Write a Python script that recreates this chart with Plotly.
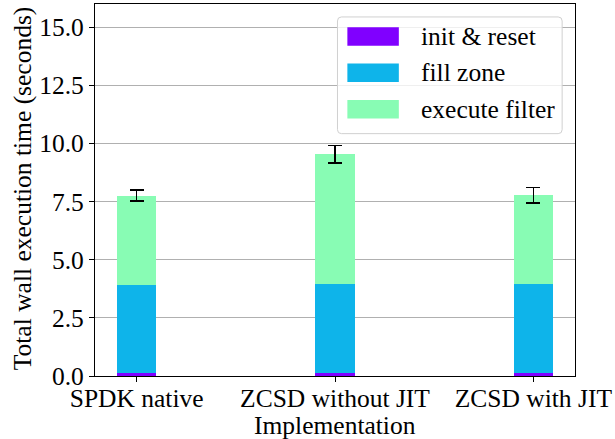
import plotly.graph_objects as go

categories = ["SPDK native", "ZCSD without JIT", "ZCSD with JIT"]
series_names = ["init & reset", "fill zone", "execute filter"]
init_reset = [0.13, 0.12, 0.13]
fill_zone = [3.77, 3.82, 3.81]
execute_filter = [3.86, 5.60, 3.83]
total_err = [0.23, 0.37, 0.33]
colors = ["#8000ff", "#0eb4ea", "#88fcb4"]
y_ticks = [0.0, 2.5, 5.0, 7.5, 10.0, 12.5, 15.0]

FONT = "'Liberation Serif', 'Times New Roman', Times, serif"
FS = 25.5
W, H = 615, 439
L, R, T, B = 95, 35, 3, 63

fig = go.Figure()
series = [init_reset, fill_zone, execute_filter]
for i, (name, vals, col) in enumerate(zip(series_names, series, colors)):
    kw = {}
    if i == len(series) - 1:
        kw["error_y"] = dict(type="data", array=total_err, color="black",
                             thickness=1.6, width=7)
    fig.add_trace(go.Bar(x=list(range(len(categories))), y=vals, name=name,
                         marker=dict(color=col, line=dict(width=0)),
                         width=0.2, showlegend=False, **kw))

pw = W - L - R
ph = H - T - B
def px(x):
    return (x - L) / pw
def py(y):
    return (H - B - y) / ph

bx0, bx1, by0, by1, r = 340, 567, 16, 133, 4
path = (f"M{px(bx0 + r)},{py(by0)} L{px(bx1 - r)},{py(by0)} "
        f"Q{px(bx1)},{py(by0)} {px(bx1)},{py(by0 + r)} "
        f"L{px(bx1)},{py(by1 - r)} Q{px(bx1)},{py(by1)} {px(bx1 - r)},{py(by1)} "
        f"L{px(bx0 + r)},{py(by1)} Q{px(bx0)},{py(by1)} {px(bx0)},{py(by1 - r)} "
        f"L{px(bx0)},{py(by0 + r)} Q{px(bx0)},{py(by0)} {px(bx0 + r)},{py(by0)} Z")
shapes = [dict(type="path", xref="paper", yref="paper", path=path,
               fillcolor="rgba(255,255,255,0.8)", line=dict(color="#d0d0d0", width=1),
               layer="above")]
annotations = []
row_y = [35.5, 72, 108.5]
for name, col, cy in zip(series_names, colors, row_y):
    shapes.append(dict(type="rect", xref="paper", yref="paper",
                       x0=px(350), x1=px(402), y0=py(cy - 9.3), y1=py(cy + 9.3),
                       fillcolor=col, line=dict(width=0), layer="above"))
    annotations.append(dict(xref="paper", yref="paper", x=px(422), y=py(cy),
                            text=name, showarrow=False, xanchor="left", yanchor="middle",
                            font=dict(family=FONT, size=FS, color="black")))

annotations.append(dict(xref="paper", yref="paper", x=px(337), y=py(426),
                        text="Implementation", showarrow=False,
                        xanchor="center", yanchor="middle",
                        font=dict(family=FONT, size=FS, color="black")))
annotations.append(dict(xref="paper", yref="paper", x=px(22), y=py(188),
                        text="Total wall execution time (seconds)", showarrow=False,
                        textangle=-90, xanchor="center", yanchor="middle",
                        font=dict(family=FONT, size=FS, color="black")))

fig.update_layout(
    width=W, height=H,
    margin=dict(l=L, r=R, t=T, b=B, pad=0),
    barmode="stack",
    plot_bgcolor="white", paper_bgcolor="white",
    font=dict(family=FONT, size=FS, color="black"),
    shapes=shapes, annotations=annotations,
    xaxis=dict(range=[-0.21, 2.21], tickmode="array",
               tickvals=list(range(len(categories))), ticktext=categories,
               showgrid=False, showline=True, linecolor="black", linewidth=1.2,
               mirror=True, ticks="outside", ticklen=5, tickcolor="black",
               ticklabeloverflow="allow", ticklabelstandoff=-6,
               tickfont=dict(family=FONT, size=FS)),
    yaxis=dict(range=[0, 16], tickmode="array", tickvals=y_ticks,
               ticktext=[f"{v:.1f}" for v in y_ticks],
               showgrid=True, gridcolor="#b0b0b0", gridwidth=1,
               showline=True, linecolor="black", linewidth=1.2, mirror=True,
               ticks="outside", ticklen=5, tickcolor="black", zeroline=False,
               tickfont=dict(family=FONT, size=FS)),
)

fig.write_html("out.html", config={"displayModeBar": False},
               post_script="document.body.style.margin='0';")
